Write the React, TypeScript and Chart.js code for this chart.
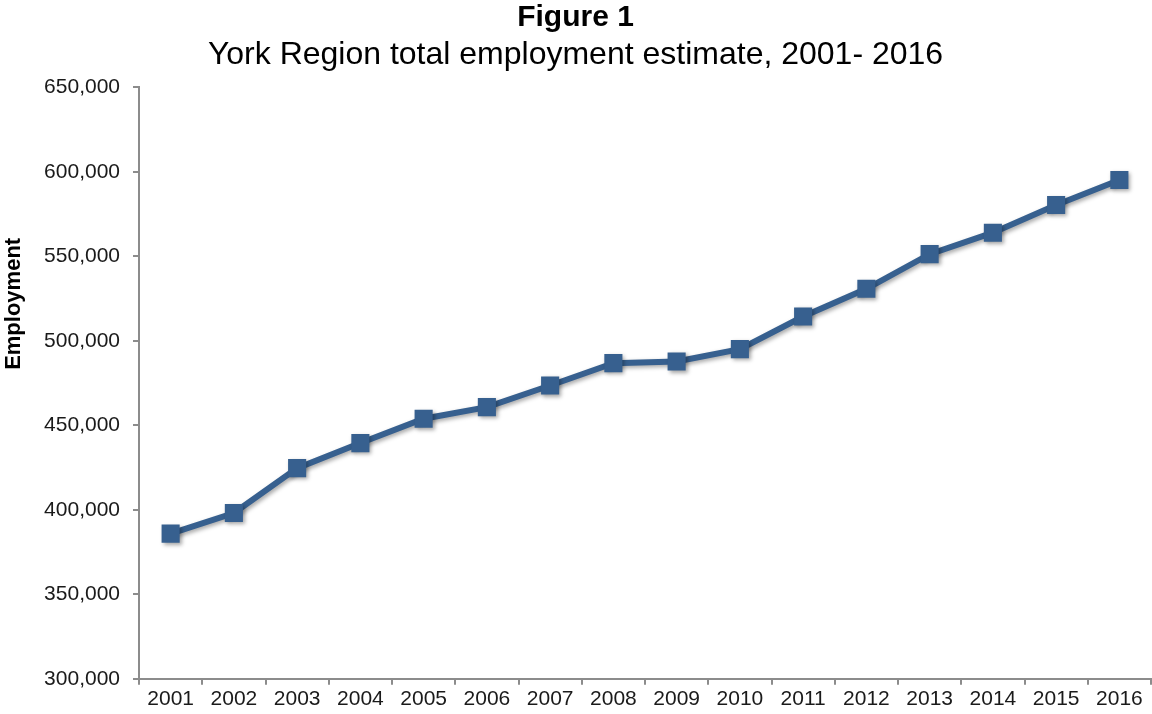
import React, { useEffect, useRef } from "react";
import { Chart, registerables } from "chart.js";

Chart.register(...registerables);

const years = ["2001", "2002", "2003", "2004", "2005", "2006", "2007", "2008", "2009", "2010", "2011", "2012", "2013", "2014", "2015", "2016"];
const employment = [385900, 398100, 424700, 439500, 453900, 460800, 473600, 486800, 487800, 495100, 514400, 530800, 551300, 564000, 580400, 595200];
const titleText = "Figure 1";
const subtitleText = "York Region total employment estimate, 2001- 2016";
const yAxisTitle = "Employment";

const FONT = "Arial, 'Liberation Sans', sans-serif";
const LINE_COLOR = "#37608F";
const AXIS_COLOR = "#8C8C8C";
const TEXT_COLOR = "#1A1A1A";

const shadowPlugin = {
  id: "lineShadow",
  beforeDatasetsDraw(chart: any) {
    const ctx = chart.ctx;
    ctx.save();
    ctx.shadowColor = "rgba(0,0,0,0.35)";
    ctx.shadowBlur = 4;
    ctx.shadowOffsetX = 2;
    ctx.shadowOffsetY = 2;
  },
  afterDatasetsDraw(chart: any) {
    chart.ctx.restore();
  },
};

// y-axis title, placed in the upper part of the axis like the reference
const yTitlePlugin = {
  id: "yTitle",
  afterDraw(chart: any) {
    const ctx = chart.ctx;
    const area = chart.chartArea;
    ctx.save();
    ctx.translate(14, area.top + (area.bottom - area.top) * 0.366);
    ctx.rotate(-Math.PI / 2);
    ctx.font = `bold 22px ${FONT}`;
    ctx.fillStyle = "#000";
    ctx.textAlign = "center";
    ctx.textBaseline = "middle";
    ctx.fillText(yAxisTitle, 0, 0);
    ctx.restore();
  },
};

export default function App() {
  const ref = useRef<HTMLCanvasElement | null>(null);
  useEffect(() => {
    if (!ref.current) return;
    const chart = new Chart(ref.current, {
      type: "line",
      data: {
        labels: years,
        datasets: [
          {
            data: employment,
            borderColor: LINE_COLOR,
            backgroundColor: LINE_COLOR,
            borderWidth: 6,
            pointStyle: "rect",
            pointRadius: 12.8,
            pointBorderWidth: 0,
            pointBackgroundColor: LINE_COLOR,
            tension: 0,
          },
        ],
      },
      plugins: [shadowPlugin, yTitlePlugin],
      options: {
        animation: false,
        responsive: false,
        maintainAspectRatio: false,
        layout: { autoPadding: false, padding: { left: 0, right: 1, top: 0, bottom: 0 } },
        plugins: {
          legend: { display: false },
          tooltip: { enabled: false },
          title: {
            display: true,
            text: titleText,
            color: "#000",
            font: { family: FONT, size: 30, weight: "bold" },
            padding: { top: 0, bottom: 0 },
          },
          subtitle: {
            display: true,
            text: subtitleText,
            color: "#000",
            font: { family: FONT, size: 32, weight: "normal" },
            padding: { top: 0, bottom: 13 },
          },
        },
        scales: {
          x: {
            offset: true,
            afterFit: (scale: any) => {
              scale.paddingLeft = 0;
              scale.paddingRight = 0;
            },
            grid: {
              offset: true,
              drawOnChartArea: false,
              drawTicks: true,
              tickLength: 6,
              color: AXIS_COLOR,
              lineWidth: 2,
            },
            border: { color: AXIS_COLOR, width: 2 },
            ticks: {
              color: TEXT_COLOR,
              font: { family: FONT, size: 21 },
              padding: 2,
              maxRotation: 0,
              autoSkip: false,
            },
          },
          y: {
            min: 300000,
            max: 650000,
            afterFit: (scale: any) => {
              scale.width = 139;
            },
            grid: {
              drawOnChartArea: false,
              drawTicks: true,
              tickLength: 6,
              color: AXIS_COLOR,
              lineWidth: 2,
            },
            border: { color: AXIS_COLOR, width: 2 },
            ticks: {
              stepSize: 50000,
              color: TEXT_COLOR,
              font: { family: FONT, size: 21 },
              padding: 13,
              callback: (v: any) => Number(v).toLocaleString("en-US"),
            },
          },
        },
      },
    });
    return () => chart.destroy();
  }, []);
  return (
    <div style={{ position: "fixed", left: 0, top: 0, width: 1152, height: 714, background: "#fff" }}>
      <canvas ref={ref} width={1152} height={714} style={{ width: 1152, height: 714 }} />
    </div>
  );
}
